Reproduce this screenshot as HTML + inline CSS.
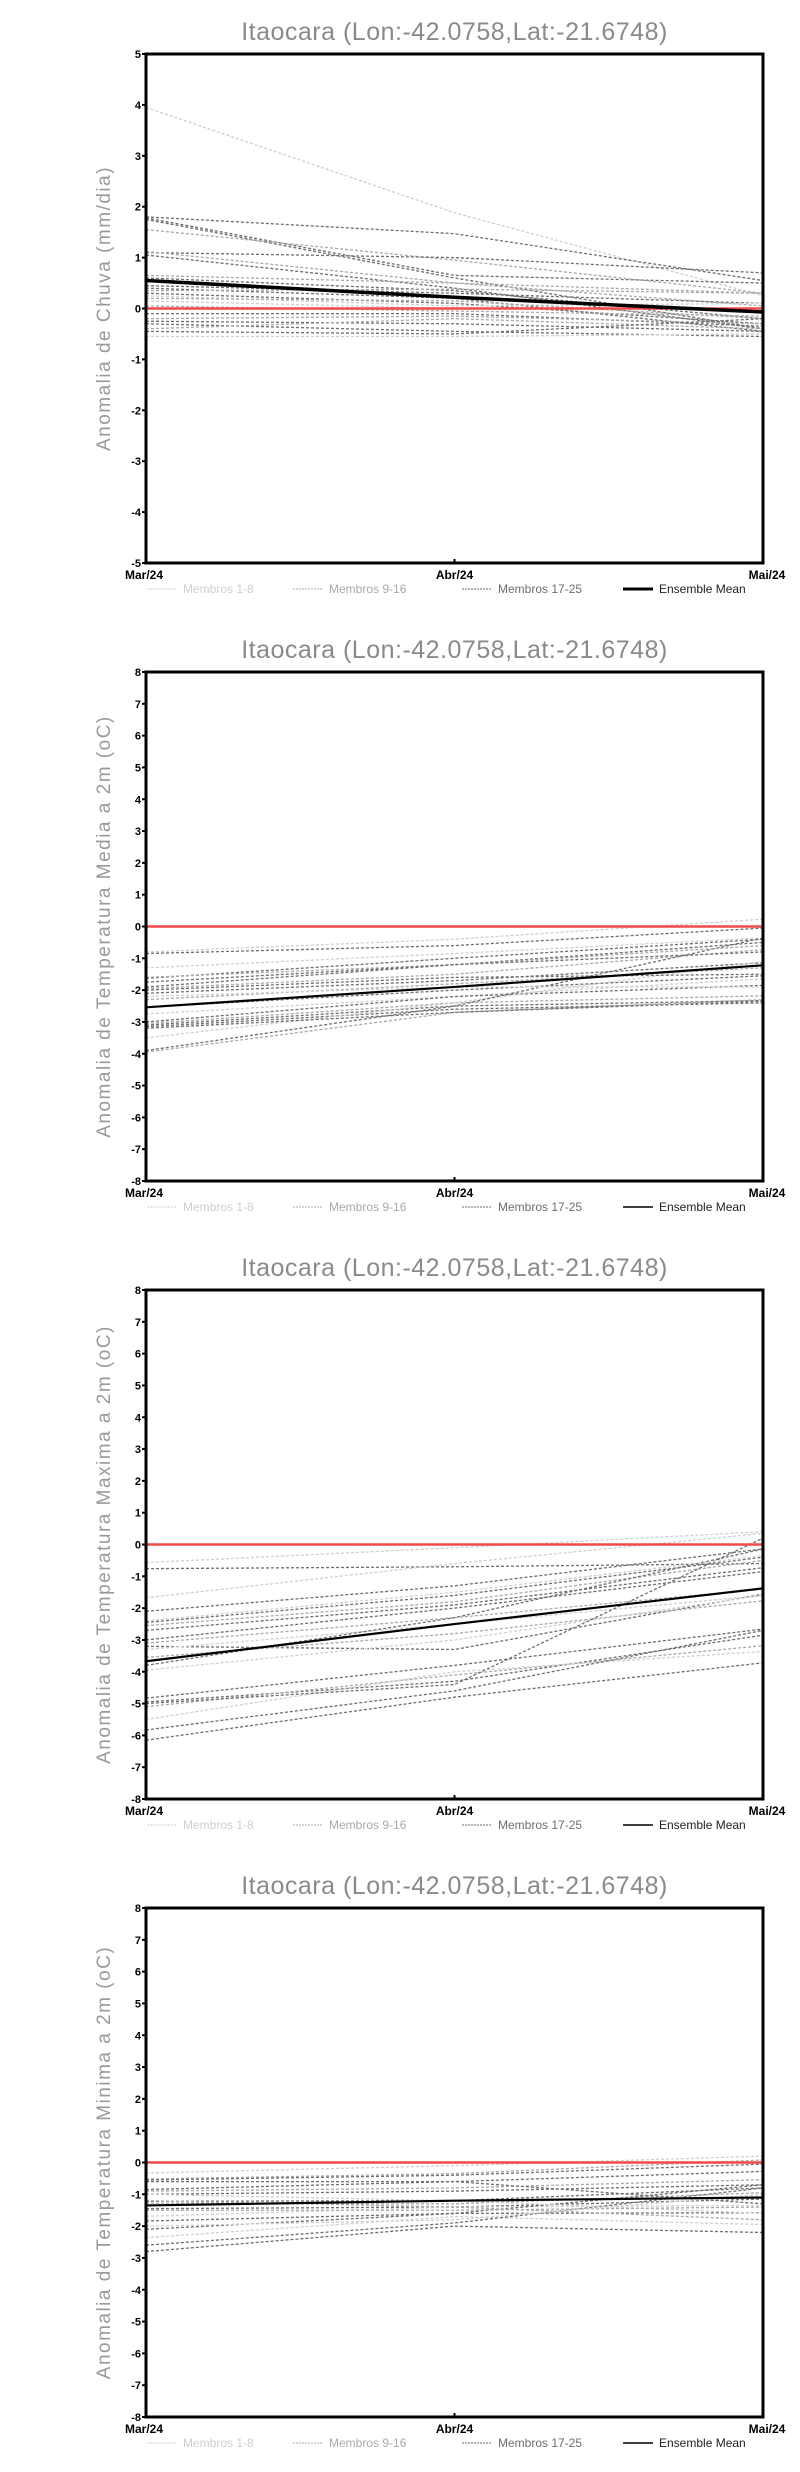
<!DOCTYPE html>
<html><head><meta charset="utf-8"><style>
html,body{margin:0;padding:0;background:#fff;}
svg{display:block;}
</style></head><body>
<svg id="s" width="800" height="2472" xmlns="http://www.w3.org/2000/svg" font-family="Liberation Sans, sans-serif"></svg>
<script>
const S=document.getElementById('s');
let h='';
const L=146,R=763,M=454.5;
const panels=[
 {t:'Anomalia de Chuva (mm/dia)',min:-5,max:5,mw:3.5,
  mean:[0.55,0.22,-0.07],
  m:[[3.95,1.88,0.25,0],[1.8,1.47,0.55,2],[1.78,0.65,0.5,2],[1.75,0.6,-0.4,2],[1.55,0.95,0.3,1],[1.1,1.0,0.7,2],[1.05,0.4,-0.4,2],[1.12,0.5,0.05,1],
     [0.65,0.5,0.3,1],[0.6,0.35,-0.2,2],[0.45,0.3,0.1,2],[0.4,0.2,-0.45,2],[0.35,0.38,0.3,1],[0.3,0.1,-0.3,2],[0.25,0.05,0.1,0],[0.2,0.15,-0.2,1],
     [0.15,0.0,0.0,0],[0.05,-0.05,-0.15,1],[-0.1,-0.1,-0.35,2],[-0.2,-0.15,-0.3,1],[-0.25,-0.3,-0.45,2],[-0.3,-0.45,-0.55,2],[-0.4,-0.2,-0.4,1],[-0.55,-0.55,-0.5,0],[-0.45,-0.5,-0.2,2]]},
 {t:'Anomalia de Temperatura Media a 2m (oC)',min:-8,max:8,mw:2.2,
  mean:[-2.54,-1.9,-1.22],
  m:[[-0.8,-0.4,0.23,0],[-0.85,-0.6,-0.05,2],[-1.3,-0.85,-0.36,0],[-1.63,-1.0,-0.4,2],[-1.9,-1.2,-0.5,2],[-1.95,-1.5,-0.73,1],[-2.1,-1.7,-1.14,2],[-2.3,-1.8,-1.3,1],
     [-2.54,-2.0,-1.55,2],[-2.75,-2.2,-1.65,0],[-3.0,-2.2,-1.85,2],[-3.05,-2.4,-2.18,1],[-3.1,-2.5,-2.33,2],[-3.15,-2.6,-2.4,2],[-3.5,-2.4,-1.1,0],[-3.9,-2.5,-0.36,2],
     [-3.95,-2.7,-2.3,1],[-1.6,-1.2,-0.6,1],[-2.0,-1.6,-1.5,2],[-3.2,-2.7,-2.35,2],[-2.2,-1.9,-1.9,0],[-1.75,-1.2,-0.8,2]]},
 {t:'Anomalia de Temperatura Maxima a 2m (oC)',min:-8,max:8,mw:2.2,
  mean:[-3.67,-2.5,-1.38],
  m:[[-0.57,-0.1,0.4,0],[-0.76,-0.7,-0.6,2],[-1.67,-0.6,0.35,0],[-2.1,-1.3,-0.14,2],[-2.45,-1.6,-0.4,2],[-2.55,-1.8,-0.5,1],[-2.7,-1.9,-0.73,2],[-3.0,-2.0,-0.85,2],
     [-3.1,-2.3,-1.4,1],[-3.2,-3.3,-1.56,2],[-3.3,-2.5,-1.6,0],[-3.55,-2.8,-1.77,1],[-3.8,-2.3,-0.14,2],[-3.95,-3.0,-1.6,0],[-4.83,-3.8,-2.66,2],[-4.95,-4.3,-2.85,2],
     [-5.1,-4.1,-3.18,1],[-5.5,-4.0,-3.36,0],[-5.83,-4.6,-2.7,2],[-6.15,-4.8,-3.72,2],[-5.0,-4.4,0.2,2],[-2.4,-1.5,-0.35,0]]},
 {t:'Anomalia de Temperatura Minima a 2m (oC)',min:-8,max:8,mw:2.2,
  mean:[-1.35,-1.2,-1.1],
  m:[[-0.33,-0.1,0.2,0],[-0.52,-0.35,0.08,1],[-0.55,-0.4,-0.05,2],[-0.85,-0.6,-0.28,2],[-0.9,-0.8,-0.54,1],[-1.0,-0.9,-0.7,2],[-1.22,-1.2,-0.8,2],[-1.28,-1.3,-0.95,1],
     [-1.45,-1.4,-1.15,2],[-1.69,-1.4,-1.35,0],[-1.84,-1.6,-1.58,2],[-2.1,-1.6,-0.7,2],[-2.36,-1.7,-1.95,0],[-2.6,-1.9,-0.8,2],[-2.8,-2.0,-2.2,2],[-1.2,-1.4,-1.8,1],
     [-0.6,-0.6,-1.3,2],[-1.0,-1.2,-1.6,0],[-1.5,-1.5,-1.4,1],[-2.0,-1.8,-1.0,0]]}
];
const cols=['#cfcfcf','#a9a9a9','#6e6e6e'];
panels.forEach((p,i)=>{
 const off=618*i, top=54+off, bot=563+off;
 const y=v=>bot-(v-p.min)/(p.max-p.min)*(bot-top);
 h+=`<text x="${M}" y="${40+off}" font-size="25" fill="#8a8a8a" text-anchor="middle" letter-spacing="0.5">Itaocara (Lon:-42.0758,Lat:-21.6748)</text>`;
 h+=`<text transform="translate(110,${(top+bot)/2}) rotate(-90)" font-size="19" fill="#9a9a9a" text-anchor="middle" letter-spacing="1.5">${p.t}</text>`;
 p.m.forEach(a=>{
  h+=`<polyline points="${L},${y(a[0])} ${M},${y(a[1])} ${R},${y(a[2])}" fill="none" stroke="${cols[a[3]]}" stroke-width="1.3" stroke-dasharray="3,2"/>`;
 });
 h+=`<line x1="${L}" x2="${R}" y1="${y(0)}" y2="${y(0)}" stroke="#f04a4a" stroke-width="2.5"/>`;
 h+=`<polyline points="${L},${y(p.mean[0])} ${M},${y(p.mean[1])} ${R},${y(p.mean[2])}" fill="none" stroke="#000" stroke-width="${p.mw}"/>`;
 h+=`<rect x="${L}" y="${top}" width="${R-L}" height="${bot-top}" fill="none" stroke="#000" stroke-width="3"/>`;
 for(let v=p.min;v<=p.max;v++){
  const yy=y(v);
  h+=`<line x1="${L-4}" x2="${L}" y1="${yy}" y2="${yy}" stroke="#000" stroke-width="2"/>`;
  h+=`<text x="${L-5}" y="${yy+4}" font-size="11" font-weight="bold" text-anchor="end">${v}</text>`;
 }
 h+=`<line x1="${M}" x2="${M}" y1="${bot}" y2="${bot-4}" stroke="#000" stroke-width="2"/>`;
 const xl=[[L-2,'Mar/24'],[M,'Abr/24'],[R+4,'Mai/24']];
 xl.forEach(a=>h+=`<text x="${a[0]}" y="${bot+16}" font-size="12" font-weight="bold" text-anchor="middle" transform="scale(1,1)">${a[1]}</text>`);
 const ly=593+off;
 const lg=[[147,'#cfcfcf','Membros 1-8',1],[293,'#a9a9a9','Membros 9-16',1],[462,'#6e6e6e','Membros 17-25',1],[623,'#000','Ensemble Mean',0]];
 lg.forEach(a=>{
  h+=`<line x1="${a[0]}" x2="${a[0]+30}" y1="${ly-4}" y2="${ly-4}" stroke="${a[1]}" stroke-width="${a[3]?1:(i==0?3:1.5)}" ${a[3]?'stroke-dasharray="2,1"':''}/>`;
  h+=`<text x="${a[0]+36}" y="${ly}" font-size="12" fill="${a[1]=='#000'?'#222':a[1]}">${a[2]}</text>`;
 });
});
S.innerHTML=h;
</script>
</body></html>
